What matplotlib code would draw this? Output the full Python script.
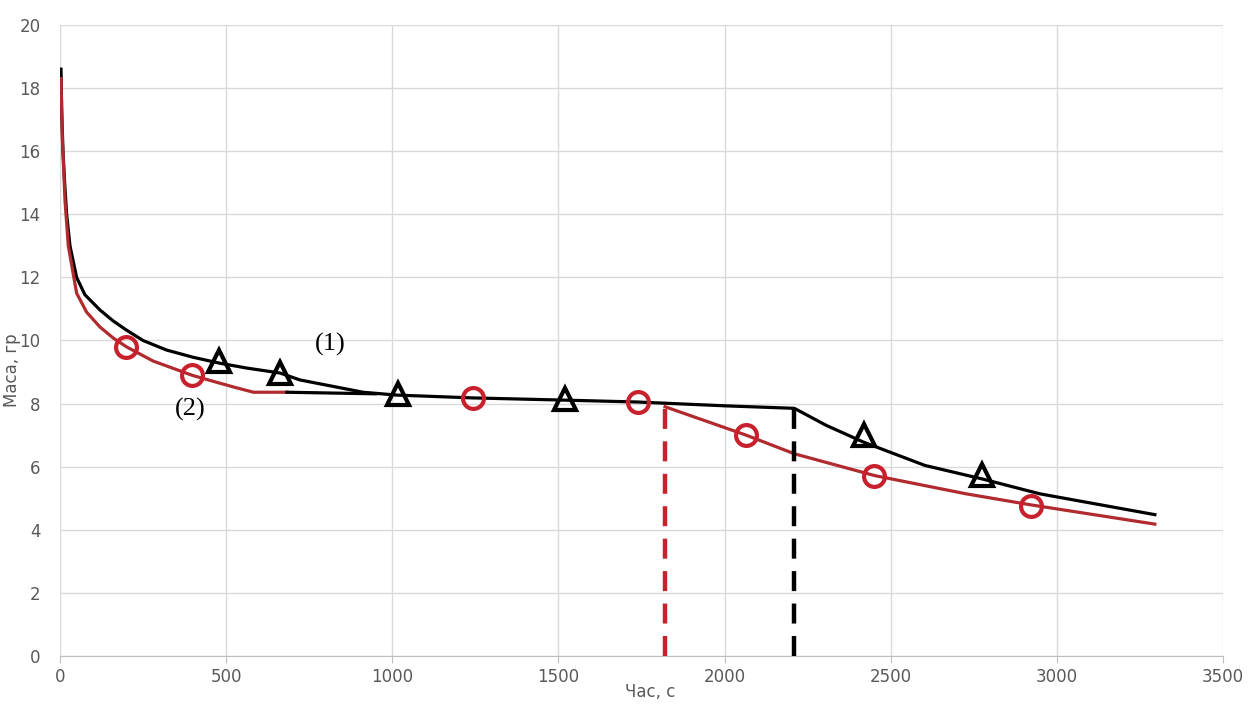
import matplotlib.pyplot as plt

# крива (1) - чорна
t1 = [3, 5, 9, 14, 20, 30, 50, 75, 120, 160, 200, 250, 320, 400, 481, 560, 662, 722, 912, 1013,
      1243, 1519, 1739, 2000, 2210, 2306, 2418, 2603, 2776, 2949, 3295]
m1 = [18.6, 17.3, 16.0, 15.0, 14.0, 13.0, 12.0, 11.45, 10.97, 10.62, 10.33, 10.0, 9.70, 9.47, 9.28, 9.13, 8.97,
      8.75, 8.36, 8.27, 8.18, 8.11, 8.05, 7.93, 7.85, 7.31, 6.78, 6.04, 5.61, 5.14, 4.48]

# крива (2) - червона, початок
t2 = [3, 7, 15, 25, 50, 80, 120, 160, 200, 280, 397, 470, 521, 582, 683]
m2 = [18.3, 16.4, 14.45, 13.0, 11.5, 10.9, 10.43, 10.08, 9.8, 9.35, 8.9, 8.68, 8.53, 8.36, 8.36]
# продовження кривої (2) чорним до злиття
t2b = [683, 950]
m2b = [8.36, 8.31]
# крива (2) після відгалуження
t2c = [1821, 2065, 2210, 2451, 2727, 2922, 3295]
m2c = [7.9, 7.0, 6.41, 5.72, 5.14, 4.79, 4.18]

# маркери
circ_t = [200, 397, 1243, 1739, 2065, 2451, 2922]
circ_m = [9.8, 8.9, 8.18, 8.05, 6.99, 5.72, 4.74]
tri_t = [478, 662, 1016, 1519, 2420, 2776]
tri_m = [9.35, 8.97, 8.3, 8.13, 7.0, 5.75]

# вертикальні пунктири
red_dash_t, red_dash_m = 1821, 7.9
blk_dash_t, blk_dash_m = 2210, 7.86

red = '#c8202c'
red_line = '#b02a2e'

fig = plt.figure(figsize=(12.55, 7.04), dpi=100)
ax = fig.add_axes([60/1255, 1-656/704, (1223-60)/1255, (656-25)/704])

ax.plot(t1, m1, color='black', lw=2.3, zorder=3)
ax.plot(t2, m2, color=red_line, lw=2.3, zorder=3)
ax.plot(t2b, m2b, color='black', lw=2.3, zorder=3)
ax.plot(t2c, m2c, color=red_line, lw=2.3, zorder=3)

ax.plot([red_dash_t, red_dash_t], [0, red_dash_m], color=red, lw=3.2, ls=(0, (4.5, 2.8)), zorder=3)
ax.plot([blk_dash_t, blk_dash_t], [0, blk_dash_m], color='black', lw=3.2, ls=(0, (4.5, 2.8)), zorder=3)

ax.plot(circ_t, circ_m, ls='none', marker='o', ms=15, mfc='none', mec=red, mew=3, zorder=4)
ax.plot(tri_t, tri_m, ls='none', marker='^', ms=16, mfc='none', mec='black', mew=3, zorder=4)

ax.text(813, 9.86, '(1)', family='Liberation Serif', fontsize=19, ha='center', va='center')
ax.text(391, 7.8, '(2)', family='Liberation Serif', fontsize=19, ha='center', va='center')

ax.set_xlim(0, 3500)
ax.set_ylim(0, 20)
ax.set_xticks(range(0, 3501, 500))
ax.set_yticks(range(0, 21, 2))
ax.grid(True, color='#d9d9d9', lw=1)
ax.set_axisbelow(True)
for s in ['top', 'right', 'left']:
    ax.spines[s].set_visible(False)
ax.spines['bottom'].set_color('#bfbfbf')
ax.tick_params(axis='x', colors='#bfbfbf', labelcolor='#595959', labelsize=12, length=5, pad=4)
ax.tick_params(axis='y', length=0, labelcolor='#595959', labelsize=12, pad=14)

fig.text(12/1255, 1-370/704, 'Маса, гр', rotation=90, ha='center', va='center',
         fontsize=12, color='#595959')
fig.text(650/1255, 1-692/704, 'Час, с', ha='center', va='center', fontsize=12, color='#595959')

fig.savefig('out.png', dpi=100, facecolor='white')
